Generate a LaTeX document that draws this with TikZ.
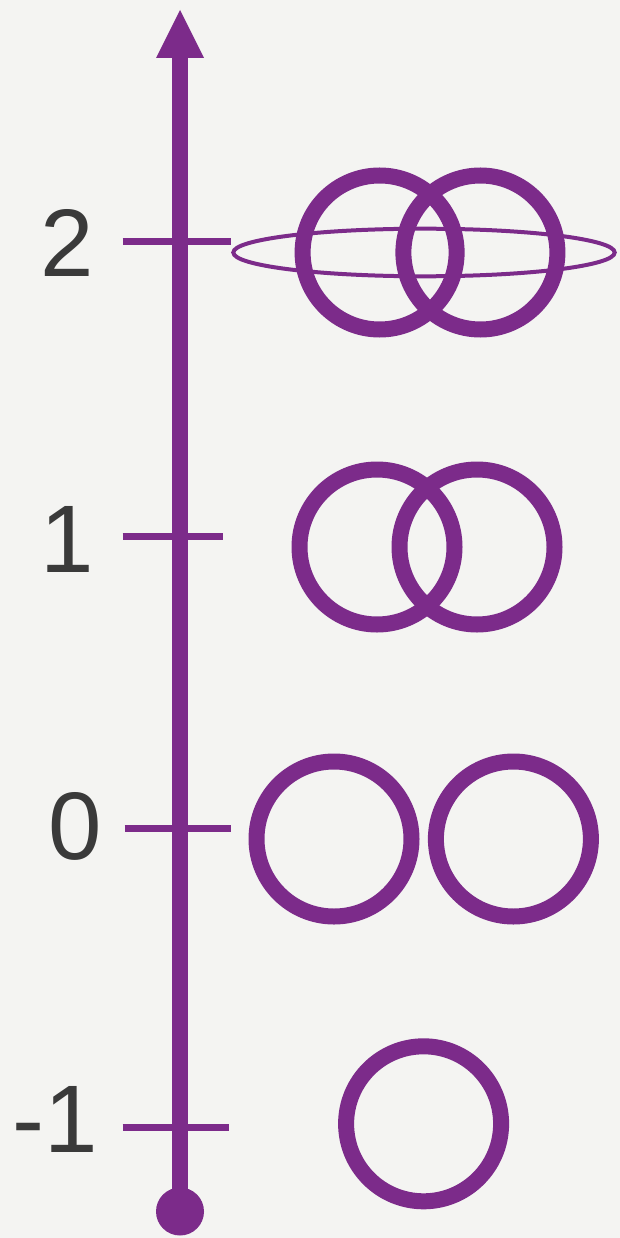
\documentclass[tikz,border=0pt]{standalone}
\usepackage{fontspec}
\setmainfont{Liberation Sans}
\definecolor{purp}{HTML}{7C2B8A}
\definecolor{bgc}{HTML}{F4F4F2}
\definecolor{txt}{HTML}{3A3A3A}
\begin{document}
\begin{tikzpicture}[x=1pt,y=-1pt,
  ring/.style={draw=purp,line width=16pt},
  tickline/.style={draw=purp,line width=7pt},
  lbl/.style={anchor=base,inner sep=0pt,text=txt,font=\fontsize{96}{96}\selectfont}]
\fill[bgc] (0,0) rectangle (620,1238);
\useasboundingbox (0,0) rectangle (620,1238);
% axis
\coordinate (bottom) at (180,1211.5);
\coordinate (top) at (180,56);
\draw[purp,line width=16pt] (bottom) -- (top);
\fill[purp] (180,10) -- (204,58) -- (156,58) -- cycle;
\fill[purp] (bottom) circle (24pt);
% ticks
\draw[tickline] (122.6,241.5) -- (231,241.5);
\draw[tickline] (122.6,536) -- (222.6,536);
\draw[tickline] (124.6,828) -- (231.3,828);
\draw[tickline] (122.6,1127.5) -- (229,1127.5);
% labels
\node[lbl] (l2) at (67.6,277) {2};
\node[lbl] (l1) at (67.5,572) {1};
\node[lbl] (l0) at (75,859.5) {0};
\node[lbl] (lm1) at (55,1152.7) {-1};
% level 2
\draw[ring] (379.6,252.5) circle (77pt);
\draw[ring] (480.4,252.5) circle (77pt);
\draw[purp,line width=4pt] (424,252.5) ellipse [x radius=190.7pt, y radius=23.8pt];
% level 1
\draw[ring] (377,547) circle (77.5pt);
\draw[ring] (477,547) circle (77.5pt);
% level 0
\draw[ring] (334,839) circle (77.5pt);
\draw[ring] (513.4,839) circle (77.5pt);
% level -1
\draw[ring] (423.6,1123.8) circle (77.5pt);
\end{tikzpicture}
\end{document}
